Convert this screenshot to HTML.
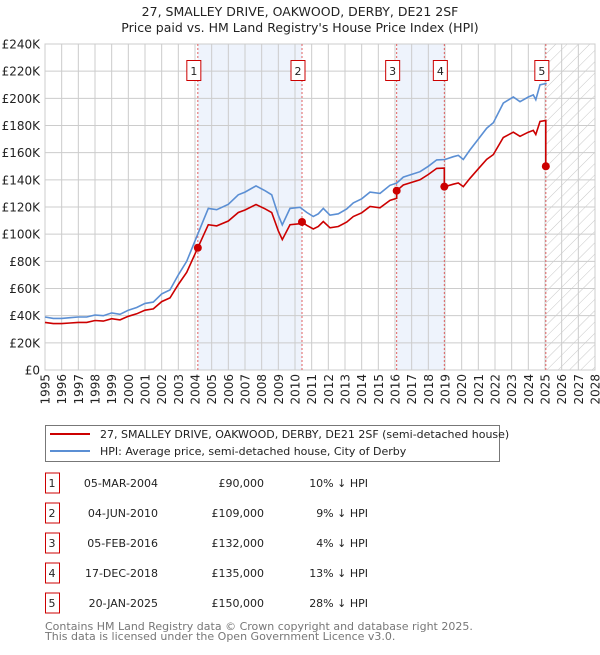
<!DOCTYPE html>
<html><head><meta charset="utf-8"><style>
body{margin:0;background:#fff;font-family:"Liberation Sans","DejaVu Sans",sans-serif;}
svg text{font-family:"DejaVu Sans","Liberation Sans",sans-serif;}
</style></head><body>
<svg id="chart" width="600" height="650" xmlns="http://www.w3.org/2000/svg">
<defs><pattern id="hatch" width="8" height="8" patternUnits="userSpaceOnUse" patternTransform="rotate(45)"><line x1="0" y1="0" x2="0" y2="8" stroke="#c8c8c8" stroke-width="1"/></pattern></defs>
<text x="300" y="16" text-anchor="middle" font-size="12.5" fill="#222">27, SMALLEY DRIVE, OAKWOOD, DERBY, DE21 2SF</text>
<text x="300" y="32" text-anchor="middle" font-size="12.5" fill="#222">Price paid vs. HM Land Registry's House Price Index (HPI)</text>
<g id="plot"></g>
<g>
<rect x="45.5" y="425.5" width="454" height="36" fill="#fff" stroke="#777"/>
<line x1="50" y1="434" x2="90" y2="434" stroke="#cc0000" stroke-width="2"/>
<text x="100" y="438" font-size="11" fill="#222">27, SMALLEY DRIVE, OAKWOOD, DERBY, DE21 2SF (semi-detached house)</text>
<line x1="50" y1="451" x2="90" y2="451" stroke="#5b8fd4" stroke-width="2"/>
<text x="100" y="455" font-size="11" fill="#222">HPI: Average price, semi-detached house, City of Derby</text>
</g>
<g id="table" font-size="11" fill="#222"></g>
<text x="45" y="630" font-size="11" fill="#777">Contains HM Land Registry data © Crown copyright and database right 2025.</text>
<text x="45" y="640" font-size="11" fill="#777">This data is licensed under the Open Government Licence v3.0.</text>
</svg>
<script>
const hpiYears=[1995,1995.5,1996,1996.5,1997,1997.5,1998,1998.5,1999,1999.5,2000,2000.5,2001,2001.5,2002,2002.5,2003,2003.5,2004.2,2004.5,2004.8,2005.3,2006,2006.6,2007,2007.66,2008.2,2008.6,2009,2009.24,2009.7,2010.3,2010.7,2011.1,2011.4,2011.7,2012.1,2012.6,2013.1,2013.5,2014,2014.5,2015.1,2015.7,2016.1,2016.5,2017,2017.5,2018,2018.5,2019,2019.5,2019.8,2020.1,2020.5,2021,2021.5,2021.9,2022.5,2023.1,2023.5,2024,2024.3,2024.45,2024.7,2025.1];
const hpiValues=[39,38,38,38.5,39,39,40.5,40,42,41,44,46,49,50,56,59,70,80,101,110,119,118,122,129,131,135.5,132,129,114,106.8,119,119.8,116,113,115,119,114,115,118.5,123,126,131,130,136,137.6,142,144,146,150,154.7,155,157,158,155,162,170,178,182,196.5,201,197.5,201,202.5,199,210,211];
const saleDates=[2004.17,2010.42,2016.1,2018.96,2025.05];
const saleLabels=["05-MAR-2004","04-JUN-2010","05-FEB-2016","17-DEC-2018","20-JAN-2025"];
const salePrices=[90,109,132,135,150];
const saleDiffs=["10% ↓ HPI","9% ↓ HPI","4% ↓ HPI","13% ↓ HPI","28% ↓ HPI"];
const yTicks=[0,20,40,60,80,100,120,140,160,180,200,220,240];
const xTicks=[1995,1996,1997,1998,1999,2000,2001,2002,2003,2004,2005,2006,2007,2008,2009,2010,2011,2012,2013,2014,2015,2016,2017,2018,2019,2020,2021,2022,2023,2024,2025,2026,2027,2028];

const L=45,R=595,T=44,B=370,X0=1995,X1=2028,YMAX=240;
const xs=v=>L+(v-X0)/(X1-X0)*(R-L);
const ys=v=>B-v/YMAX*(B-T);
const NS="http://www.w3.org/2000/svg";
function mk(parent,tag,attrs){const e=document.createElementNS(NS,tag);for(const k in attrs)e.setAttribute(k,attrs[k]);parent.appendChild(e);return e;}
function hpiAt(t){if(t<=hpiYears[0])return hpiValues[0];for(let i=1;i<hpiYears.length;i++){if(t<=hpiYears[i]){const f=(t-hpiYears[i-1])/(hpiYears[i]-hpiYears[i-1]);return hpiValues[i-1]+f*(hpiValues[i]-hpiValues[i-1]);}}return hpiValues[hpiValues.length-1];}
const plot=document.getElementById('plot');
const sh1=mk(plot,'rect',{x:xs(saleDates[0]),y:T,width:xs(saleDates[1])-xs(saleDates[0]),height:B-T,fill:'#eef3fc'});


const sh2=mk(plot,'rect',{x:xs(saleDates[2]),y:T,width:xs(saleDates[3])-xs(saleDates[2]),height:B-T,fill:'#eef3fc'});


const hz=mk(plot,'rect',{x:xs(saleDates[4]),y:T,width:R-xs(saleDates[4]),height:B-T,fill:'url(#hatch)'});


yTicks.forEach(v=>{
 const g=mk(plot,'line',{x1:L,x2:R,y1:ys(v),y2:ys(v),stroke:'#cccccc','stroke-width':1});
 
 
 const t=mk(plot,'text',{x:40,y:ys(v)+4.5,'text-anchor':'end','font-size':12,fill:'#222'});
 t.textContent=v===0?'£0':'£'+v+'K';
 
 
});
xTicks.forEach(v=>{
 const g=mk(plot,'line',{x1:xs(v),x2:xs(v),y1:T,y2:B,stroke:'#cccccc','stroke-width':1});
 
 
 const t=mk(plot,'text',{x:0,y:0,'text-anchor':'end','font-size':12,fill:'#222',transform:`translate(${xs(v)+4.5},${B+4}) rotate(-90)`});
 t.textContent=v;
 
 
});
const bd=mk(plot,'rect',{x:L,y:T,width:R-L,height:B-T,fill:'none',stroke:'#cccccc'});


saleDates.forEach((d,i)=>{
 const l=mk(plot,'line',{x1:xs(d),x2:xs(d),y1:T,y2:B,stroke:'#e06060','stroke-width':1,'stroke-dasharray':'2,2'});
 
 
 const r=mk(plot,'rect',{x:xs(d)-11,y:60.5,width:14,height:20,fill:'#fff',stroke:'#cc0000','stroke-width':1});
 
 
 const t=mk(plot,'text',{x:xs(d)-4,y:75,'text-anchor':'middle','font-size':11,fill:'#222'});
 t.textContent=String(i+1);
 
 
});
const hp=hpiYears.map((y,i)=>xs(y).toFixed(1)+','+ys(hpiValues[i]).toFixed(1)).join(' ');
const hl=mk(plot,'polyline',{points:hp,fill:'none',stroke:'#5b8fd4','stroke-width':1.6});


const pts=[];
const times=hpiYears.filter(t=>t<saleDates[4]).concat(saleDates).sort((a,b)=>a-b);
times.forEach(t=>{
 let k=0;for(let i=0;i<saleDates.length;i++)if(saleDates[i]<=t)k=i;
 if(saleDates.includes(t)&&saleDates.indexOf(t)>0){const p=saleDates.indexOf(t)-1;pts.push([t,hpiAt(t)*salePrices[p]/hpiAt(saleDates[p])]);}
 pts.push([t,hpiAt(t)*salePrices[k]/hpiAt(saleDates[k])]);
});
const pl=mk(plot,'polyline',{points:pts.map(p=>xs(p[0]).toFixed(1)+','+ys(p[1]).toFixed(1)).join(' '),fill:'none',stroke:'#cc0000','stroke-width':1.6});


saleDates.forEach((d,i)=>{
 const c=mk(plot,'circle',{cx:xs(d),cy:ys(salePrices[i]),r:4,fill:'#cc0000'});
 
 
});
const tb=document.getElementById('table');
saleDates.forEach((d,i)=>{
 const y=483+i*30;
 const r=mk(tb,'rect',{x:45.5,y:y-10,width:14,height:20,fill:'#fff',stroke:'#cc0000'});
 
 
 const cells=[[52,'middle',String(i+1)],[158,'end',saleLabels[i]],[264,'end','£'+(salePrices[i]*1000).toLocaleString('en-GB')],[368,'end',saleDiffs[i]]];
 cells.forEach((c,j)=>{
  const t=mk(tb,'text',{x:c[0],y:y+4,'text-anchor':c[1]});
  t.textContent=c[2];
  
  
 });
});
</script>
</body></html>
